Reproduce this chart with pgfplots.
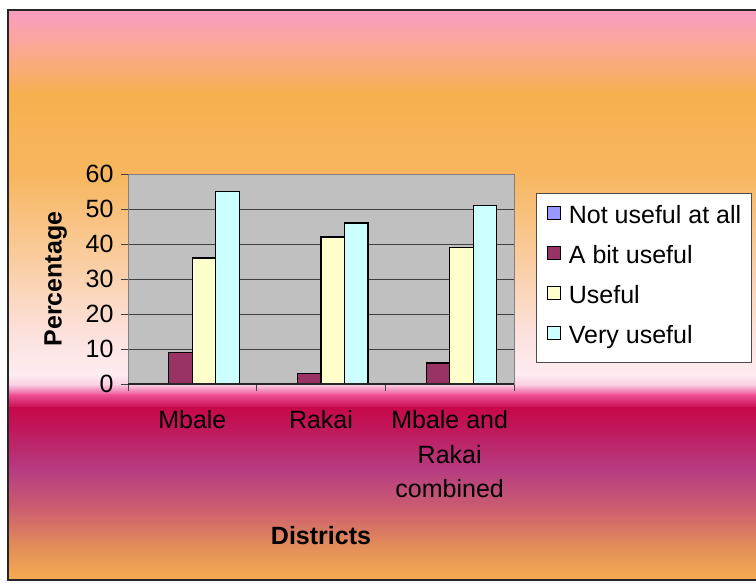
\documentclass[border=0pt]{standalone}
\usepackage{fontspec}
\setmainfont{Liberation Sans}
\usepackage{pgfplots}
\pgfplotsset{compat=1.18}

\definecolor{notuseful}{RGB}{153,153,255}
\definecolor{bituseful}{RGB}{153,51,102}
\definecolor{useful}{RGB}{255,255,204}
\definecolor{veryuseful}{RGB}{204,255,255}
\definecolor{plotgray}{RGB}{192,192,192}

% background gradient stops
\definecolor{g01}{RGB}{249,156,194}
\definecolor{g02}{RGB}{250,168,150}
\definecolor{g03}{RGB}{247,176,78}
\definecolor{g04}{RGB}{247,182,95}
\definecolor{g05}{RGB}{250,205,160}
\definecolor{g06}{RGB}{252,224,218}
\definecolor{g07}{RGB}{253,236,242}
\definecolor{g08}{RGB}{250,205,225}
\definecolor{g09}{RGB}{238,80,150}
\definecolor{g10}{RGB}{198,8,75}
\definecolor{g11}{RGB}{192,25,92}
\definecolor{g12}{RGB}{182,60,130}
\definecolor{g13}{RGB}{205,95,110}
\definecolor{g14}{RGB}{226,140,90}
\definecolor{g15}{RGB}{247,172,80}

\newcommand\chartfont{\fontsize{25}{34.5}\selectfont}
% band from #1 to #2 (measured from the top), colours #3 -> #4
\newcommand\band[4]{\shade[top color=#3,bottom color=#4]
  (8,{582-#1+0.4}) rectangle (756,{582-#2-0.4});}

\begin{document}
\begin{tikzpicture}[x=1pt,y=1pt]
\useasboundingbox (0,0) rectangle (756,582);
\fill[white] (0,0) rectangle (756,582);
\band{10}{45}{g01}{g02}
\band{45}{95}{g02}{g03}
\band{95}{175}{g03}{g04}
\band{175}{260}{g04}{g05}
\band{260}{330}{g05}{g06}
\band{330}{375}{g06}{g07}
\band{375}{385}{g07}{g08}
\band{385}{395}{g08}{g09}
\band{395}{408}{g09}{g10}
\band{408}{430}{g10}{g11}
\band{430}{470}{g11}{g12}
\band{470}{510}{g12}{g13}
\band{510}{545}{g13}{g14}
\band{545}{580}{g14}{g15}
\draw[black!85,line width=1.5pt] (756,572) -- (8,572) -- (8,2) -- (756,2);

\begin{axis}[
  at={(128pt,198pt)}, anchor=south west,
  scale only axis, width=386pt, height=210pt,
  xmin=-0.5, xmax=2.5, ymin=0, ymax=60,
  ybar=0pt, bar width=23.5pt,
  axis background/.style={fill=plotgray},
  axis line style={draw=black!50, line width=1pt},
  xtick={0,1,2},
  xticklabels={Mbale, Rakai, {Mbale and\\Rakai\\combined}},
  xticklabel style={align=center, font=\chartfont, yshift=-16pt},
  major x tick style={draw=none},
  minor xtick={-0.5,0.5,1.5,2.5},
  ytick={0,10,20,30,40,50,60},
  yticklabel style={font=\chartfont, xshift=-4pt},
  /pgf/number format/assume math mode=true,
  tick align=outside, tick pos=left,
  major tick length=7pt, minor tick length=7pt,
  tick style={black!75, line width=1pt},
  ymajorgrids, grid style={black!75, line width=0.9pt},
  xlabel={\bfseries Districts},
  xlabel style={font=\chartfont, at={(axis description cs:0.5,-0.765)}, anchor=base},
  ylabel={\bfseries Percentage},
  ylabel style={font=\chartfont, at={(axis description cs:-0.172,0.5)}, anchor=base, rotate=0},
  legend style={at={(1.057,0.908)}, anchor=north west, fill=white,
    draw=black!70, line width=0.8pt, font=\chartfont,
    inner xsep=10.5pt, inner ysep=11.7pt, row sep=15pt, column sep=8pt,
    nodes={inner sep=0pt, text height=18pt, text depth=7pt}},
  legend cell align=left,
  legend image code/.code={\draw[#1, draw=black, line width=1pt] (0pt,-2pt) rectangle (13pt,11pt);},
]
\addplot[fill=notuseful, draw=none] coordinates {(0,0) (1,0) (2,0)};
\addplot[fill=bituseful, draw=black, line width=1.3pt] coordinates {(0,9) (1,3) (2,6)};
\addplot[fill=useful, draw=black, line width=1.3pt] coordinates {(0,36) (1,42) (2,39)};
\addplot[fill=veryuseful, draw=black, line width=1.3pt] coordinates {(0,55) (1,46) (2,51)};
\legend{Not useful at all, A bit useful, Useful, Very useful}
\draw[black!85, line width=1.2pt] (rel axis cs:0,0) -- (rel axis cs:1,0);
\end{axis}
\end{tikzpicture}
\end{document}
